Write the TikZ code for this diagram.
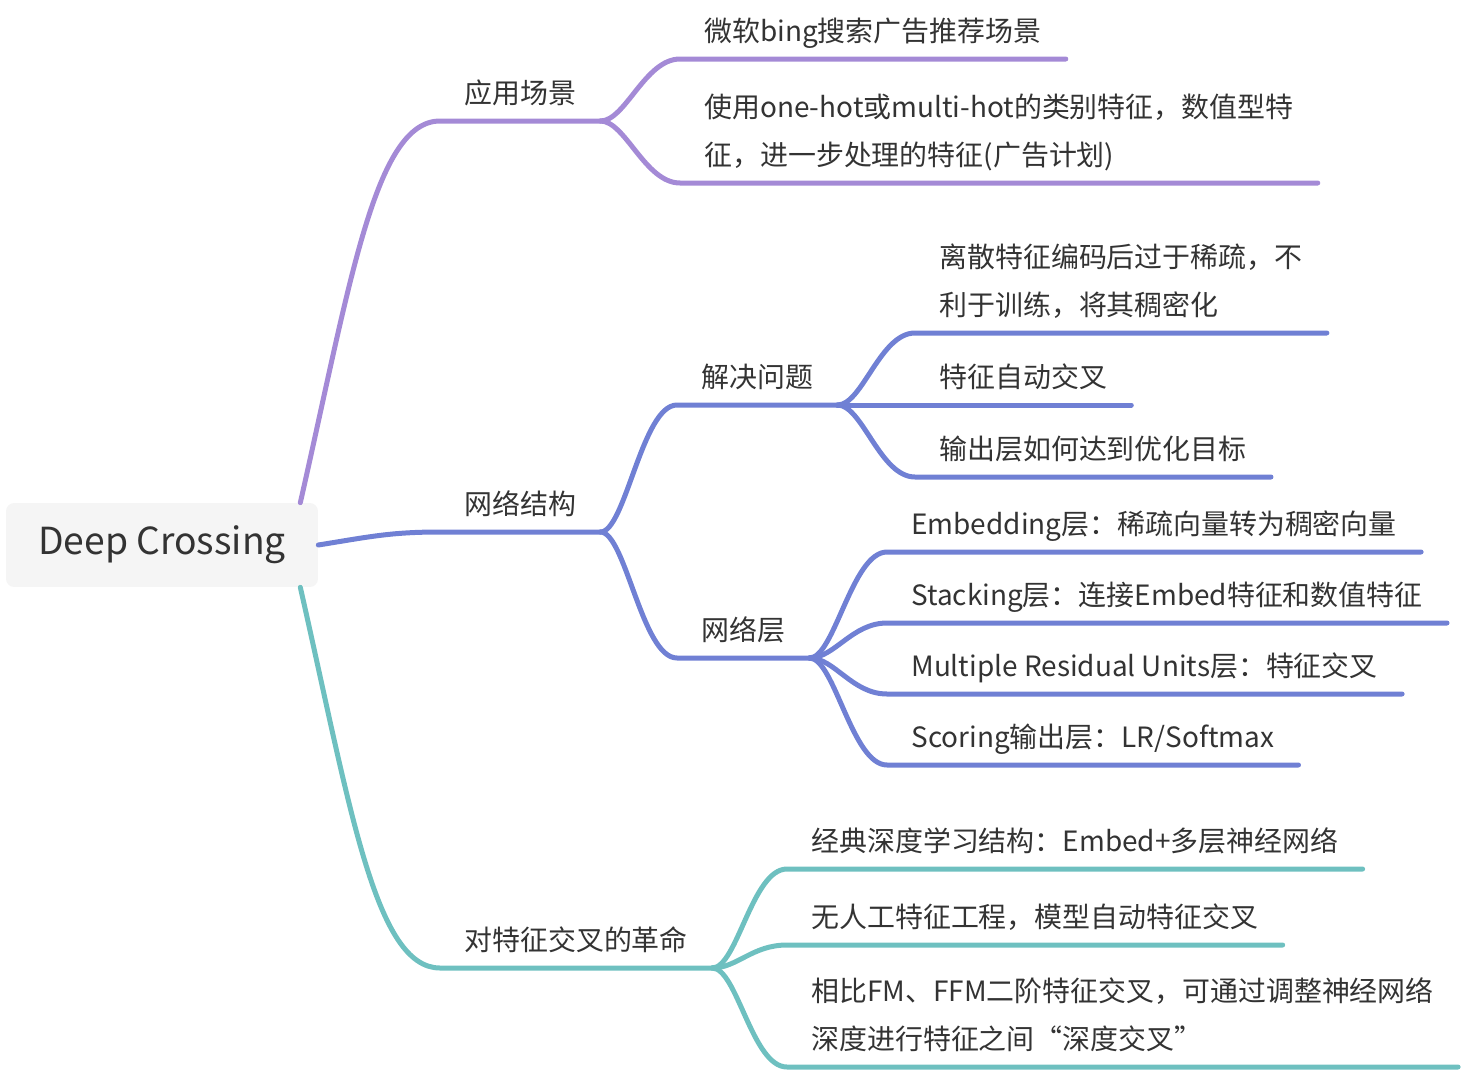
\documentclass[tikz,border=0pt]{standalone}
\usepackage{fontspec}
\setmainfont{Noto Sans CJK SC}
\definecolor{mmpurple}{RGB}{164,138,214}
\definecolor{mmblue}{RGB}{112,128,212}
\definecolor{mmteal}{RGB}{110,192,192}
\definecolor{mmgray}{RGB}{245,245,245}
\definecolor{mmtext}{RGB}{51,51,51}
\newcommand{\branchwidth}{0.1cm}

\tikzset{
  topic/.style={anchor=south west, inner xsep=0.48cm, inner ysep=0.34cm,
    text height=0.56cm, text depth=0pt, align=left, text=mmtext,
    font=\fontsize{15.9pt}{27.3pt}\selectfont},
  twoline/.style={text height=1.52cm},
  branch/.style={line width=\branchwidth, line cap=round},
}

\begin{document}
\begin{tikzpicture}[x=0.02cm, y=-0.02cm]
  \useasboundingbox (0,0) rectangle (1478,1072);

  % root
  \node (root) at (162,545) [fill=mmgray, rounded corners=0.16cm, minimum width=6.24cm,
    minimum height=1.68cm, text=mmtext, font=\fontsize{21.2pt}{21.2pt}\selectfont] {Deep Crossing};

  % 应用场景
  \node (p) at (440,121) [topic] {应用场景};
  \node (p1) at (680,59) [topic] {微软bing搜索广告推荐场景};
  \node (p2) at (680,183) [topic, twoline] {使用one-hot或multi-hot的类别特征，数值型特\\征，进一步处理的特征(广告计划)};
  \draw[branch, mmpurple] ([xshift=-0.36cm]root.north east) .. controls +(50,-220) and +(-65,0) .. (p.south west) -- (p.south east);
  \foreach \j in {1,2}
  {
    \draw[branch, mmpurple] (p.south east) .. controls +(25,0) and +(-35,0) .. (p\j.south west) -- (p\j.south east);
  }

  % 网络结构
  \node (b) at (440,532) [topic] {网络结构};
  \node (b1) at (677,405) [topic] {解决问题};
  \node (b2) at (677,658) [topic] {网络层};
  \draw[branch, mmblue] (root.east) .. controls +(50,-8) and +(-50,0) .. (b.south west) -- (b.south east);
  \foreach \j in {1,2}
  {
    \draw[branch, mmblue] (b.south east) .. controls +(25,0) and +(-35,0) .. (b\j.south west) -- (b\j.south east);
  }

  % 解决问题
  \node (b11) at (915,333) [topic, twoline] {离散特征编码后过于稀疏，不\\利于训练，将其稠密化};
  \node (b12) at (915,405) [topic] {特征自动交叉};
  \node (b13) at (915,477) [topic] {输出层如何达到优化目标};
  \foreach \j in {1,2,3}
  {
    \draw[branch, mmblue] (b1.south east) .. controls +(25,0) and +(-35,0) .. (b1\j.south west) -- (b1\j.south east);
  }

  % 网络层
  \foreach \j/\y/\txt in {1/552/{Embedding层：稀疏向量转为稠密向量},
                          2/623/{Stacking层：连接Embed特征和数值特征},
                          3/694/{Multiple Residual Units层：特征交叉},
                          4/765/{Scoring输出层：LR/Softmax}}
  {
    \node (b2\j) at (887,\y) [topic] {\txt};
    \draw[branch, mmblue] (b2.south east) .. controls +(25,0) and +(-35,0) .. (b2\j.south west) -- (b2\j.south east);
  }

  % 对特征交叉的革命
  \node (t) at (440,968) [topic] {对特征交叉的革命};
  \node (t1) at (787,869) [topic] {经典深度学习结构：Embed+多层神经网络};
  \node (t2) at (787,945) [topic] {无人工特征工程，模型自动特征交叉};
  \node (t3) at (787,1067) [topic, twoline] {相比FM、FFM二阶特征交叉，可通过调整神经网络\\深度进行特征之间“深度交叉”};
  \draw[branch, mmteal] ([xshift=-0.36cm]root.south east) .. controls +(50,220) and +(-65,0) .. (t.south west) -- (t.south east);
  \foreach \j in {1,2,3}
  {
    \draw[branch, mmteal] (t.south east) .. controls +(25,0) and +(-35,0) .. (t\j.south west) -- (t\j.south east);
  }
\end{tikzpicture}
\end{document}
